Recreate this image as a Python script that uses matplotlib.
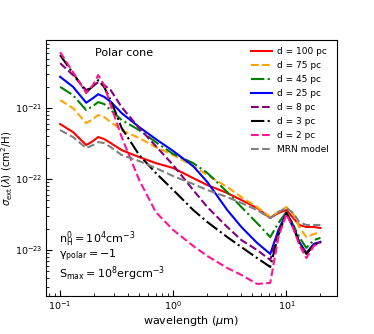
import matplotlib
matplotlib.use("Agg")
import matplotlib.pyplot as plt
import numpy as np

# wavelength grid (micron)
wavelength = [0.1, 0.13, 0.17, 0.195, 0.217, 0.245, 0.28, 0.35, 0.5, 0.7, 1.0, 1.5,
              2.0, 3.0, 4.0, 5.5, 7.2, 8.5, 10.0, 11.5, 13.0, 15.0, 17.5, 20.0]

# extinction cross sections in units of 1e-22 cm^2/H
d100 = [5.95, 4.59, 3.01, 3.43, 3.91, 3.66, 3.21, 2.56, 2.04, 1.68, 1.43, 1.03,
        0.823, 0.635, 0.506, 0.391, 0.282, 0.332, 0.366, 0.282, 0.225, 0.211, 0.211, 0.204]
d75 = [12.97, 10.0, 6.15, 7.00, 7.97, 7.47, 6.35, 4.90, 3.78, 2.82, 2.18, 1.52,
       1.14, 0.771, 0.557, 0.403, 0.292, 0.343, 0.403, 0.321, 0.211, 0.152, 0.168, 0.179]
d45 = [19.95, 15.2, 9.37, 10.7, 12.15, 11.4, 9.37, 6.78, 4.90, 3.32, 2.25, 1.68,
       1.22, 0.656, 0.403, 0.240, 0.152, 0.240, 0.343, 0.225, 0.152, 0.107, 0.138, 0.148]
d25 = [27.6, 19.95, 11.9, 13.8, 15.7, 14.4, 12.3, 8.50, 5.40, 3.66, 2.48, 1.52,
       0.908, 0.366, 0.211, 0.126, 0.0879, 0.191, 0.332, 0.204, 0.130, 0.0908, 0.122, 0.130]
d8 = [43.0, 29.2, 17.9, 20.4, 23.2, 21.1, 17.9, 10.3, 5.23, 2.92, 1.57, 0.700,
      0.403, 0.211, 0.138, 0.100, 0.0723, 0.179, 0.332, 0.211, 0.126, 0.0879, 0.118, 0.130]
d3 = [55.7, 31.1, 16.8, 20.4, 24.8, 19.8, 12.97, 5.23, 2.18, 1.22, 0.700, 0.366,
      0.248, 0.152, 0.110, 0.0771, 0.0577, 0.163, 0.332, 0.225, 0.126, 0.0879, 0.118, 0.130]
d2 = [61.5, 32.1, 16.3, 21.1, 29.2, 21.1, 11.0, 3.91, 0.968, 0.343, 0.191, 0.114,
      0.0823, 0.0557, 0.0445, 0.0332, 0.0343, 0.152, 0.321, 0.204, 0.118, 0.0771, 0.114, 0.126]
mrn = [4.90, 3.91, 2.73, 3.01, 3.32, 3.21, 2.82, 2.18, 1.79, 1.43, 1.10, 0.851,
       0.700, 0.557, 0.459, 0.366, 0.282, 0.343, 0.391, 0.332, 0.248, 0.225, 0.225, 0.225]

labels = ["d = 100 pc", "d = 75 pc", "d = 45 pc", "d = 25 pc",
          "d = 8 pc", "d = 3 pc", "d = 2 pc", "MRN model"]
series = [d100, d75, d45, d25, d8, d3, d2, mrn]
colors = ["red", "orange", "green", "blue", "purple", "black", "deeppink", "gray"]
styles = ["-", "--", "-.", "-", "--", "-.", "--", "--"]

xticks = [0.1, 1.0, 10.0]
yticks = [1e-23, 1e-22, 1e-21]

fig = plt.figure(figsize=(3.74, 3.34), dpi=100)
ax = fig.add_axes([0.123, 0.114, 0.778, 0.766])

lam = np.array(wavelength)
for vals, lab, c, ls in zip(series, labels, colors, styles):
    ax.plot(lam, np.array(vals) * 1e-22, color=c, ls=ls, lw=1.5, label=lab)

ax.set_xscale("log")
ax.set_yscale("log")
ax.set_xticks(xticks)
ax.set_yticks(yticks)
ax.set_xlim(0.075, 28)
ax.set_ylim(2.25e-24, 9.1e-21)
ax.tick_params(which="both", direction="in", top=False, right=False, labelsize=6.8)
ax.tick_params(which="major", length=4)
ax.tick_params(which="minor", length=2)
ax.tick_params(axis="x", pad=2.5)
ax.tick_params(axis="y", pad=2.2)

ax.set_xlabel(r"wavelength ($\mu$m)", fontsize=8)
ax.xaxis.set_label_coords(0.5, -0.072)
ax.set_ylabel(r"$\sigma_{\rm ext}(\lambda)$ (cm$^2$/H)", fontsize=7.3)
ax.yaxis.set_label_coords(-0.106, 0.5)

ax.text(0.17, 0.95, "Polar cone", transform=ax.transAxes, fontsize=8, va="center")
ax.text(0.045, 0.222, r"$\mathrm{n_H^0 = 10^4 cm^{-3}}$", transform=ax.transAxes, fontsize=8, va="center")
ax.text(0.045, 0.158, r"$\mathrm{\gamma_{polar} = -1}$", transform=ax.transAxes, fontsize=8, va="center")
ax.text(0.045, 0.085, r"$\mathrm{S_{max} = 10^8 erg cm^{-3}}$", transform=ax.transAxes, fontsize=8, va="center")

ax.legend(loc="upper right", frameon=False, fontsize=6.5, labelspacing=0.55,
          handlelength=2.3, handletextpad=0.6, bbox_to_anchor=(1.0, 1.005))

fig.savefig("out.png", dpi=100)
